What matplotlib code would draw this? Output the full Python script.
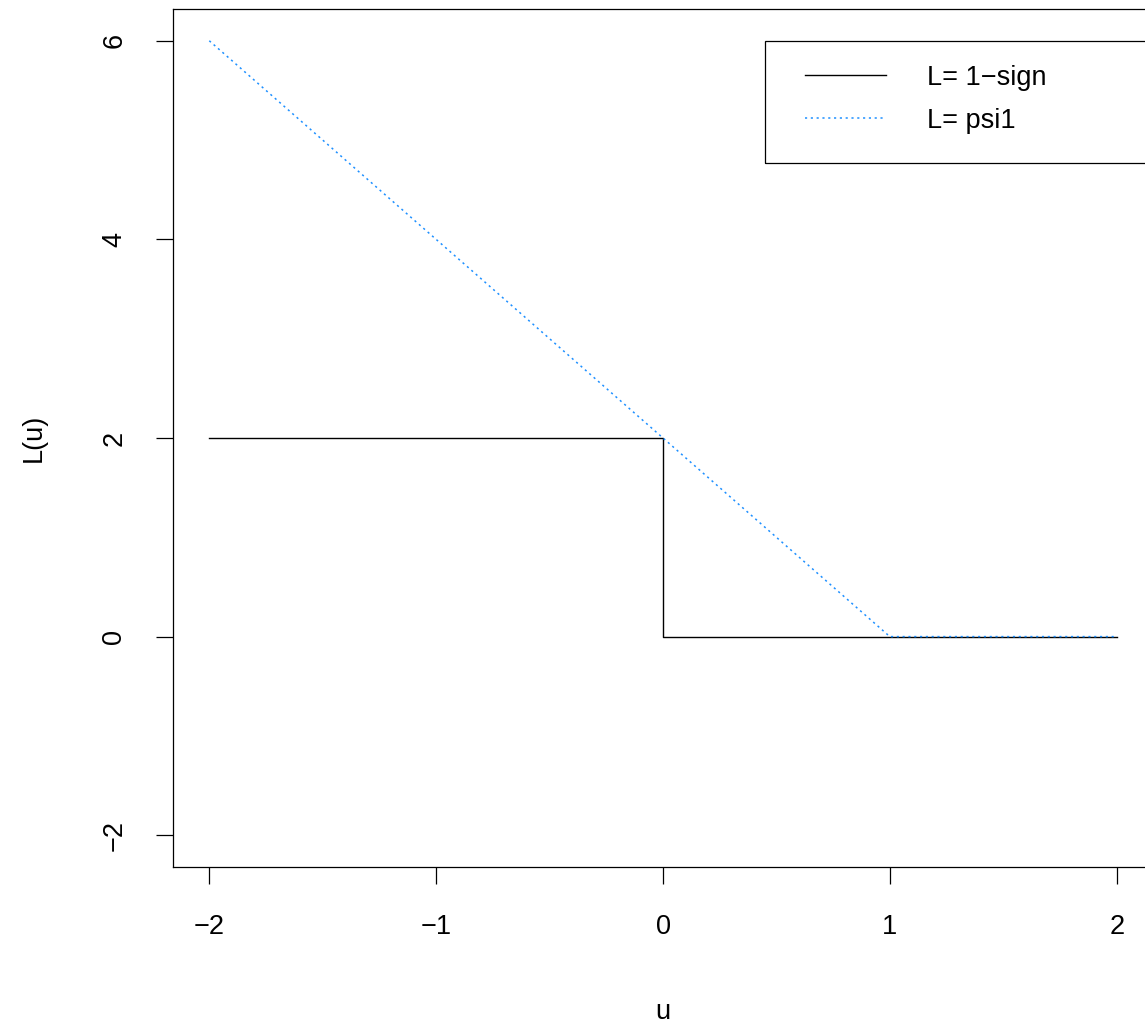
import matplotlib
matplotlib.use('Agg')
import matplotlib.pyplot as plt
from matplotlib.patches import Rectangle

plt.rcParams['font.family'] = ['Liberation Sans', 'DejaVu Sans']

# step loss L = 1 - sign(u)
u_sign = [-2, 0, 0, 2]
L_sign = [2, 2, 0, 0]

# psi1 loss
u_psi = [-2, 1, 2]
L_psi = [6, 0, 0]

x_ticks = [-2, -1, 0, 1, 2]
y_ticks = [-2, 0, 2, 4, 6]
legend_labels = ['L= 1\u2212sign', 'L= psi1']

fs = 19.5

fig = plt.figure(figsize=(11.45, 10.23), dpi=100)
# right edge of the box falls outside the picture, as in the original
ax = fig.add_axes([173 / 1145, 1 - 867 / 1023, 980 / 1145, 858 / 1023])

ax.plot(u_sign, L_sign, color='black', linewidth=1.0, label=legend_labels[0])
ax.plot(u_psi, L_psi, color='#1E90FF', linewidth=1.1, dashes=(1.4, 2.4),
        label=legend_labels[1])

ax.set_xlim(-2.16, 2.16)
ax.set_ylim(-2.32, 6.32)
ax.set_xticks(x_ticks)
ax.set_yticks(y_ticks)
ax.tick_params(direction='out', length=12, width=0.9, labelsize=fs, color='black')
ax.tick_params(axis='x', pad=22)
ax.tick_params(axis='y', pad=21)
for lab in ax.get_yticklabels():
    lab.set_rotation(90)
    lab.set_va('center')

for s in ax.spines.values():
    s.set_linewidth(0.9)

ax.set_xlabel('u', fontsize=fs)
ax.set_ylabel('L(u)', fontsize=fs)
ax.xaxis.set_label_coords(0.5, -0.154)
ax.yaxis.set_label_coords(-0.1286, 0.5)

# legend box
ax.add_patch(Rectangle((0.604, 0.8205), 0.6, 0.1422, transform=ax.transAxes,
                       fill=False, edgecolor='black', linewidth=0.9,
                       clip_on=False, zorder=5))
ax.legend(loc='upper left', bbox_to_anchor=(0.645, 0.935), frameon=False,
          fontsize=fs, handlelength=3.0, handletextpad=1.5, labelspacing=0.62,
          borderpad=0, borderaxespad=0)

plt.savefig('out.png', dpi=100)
